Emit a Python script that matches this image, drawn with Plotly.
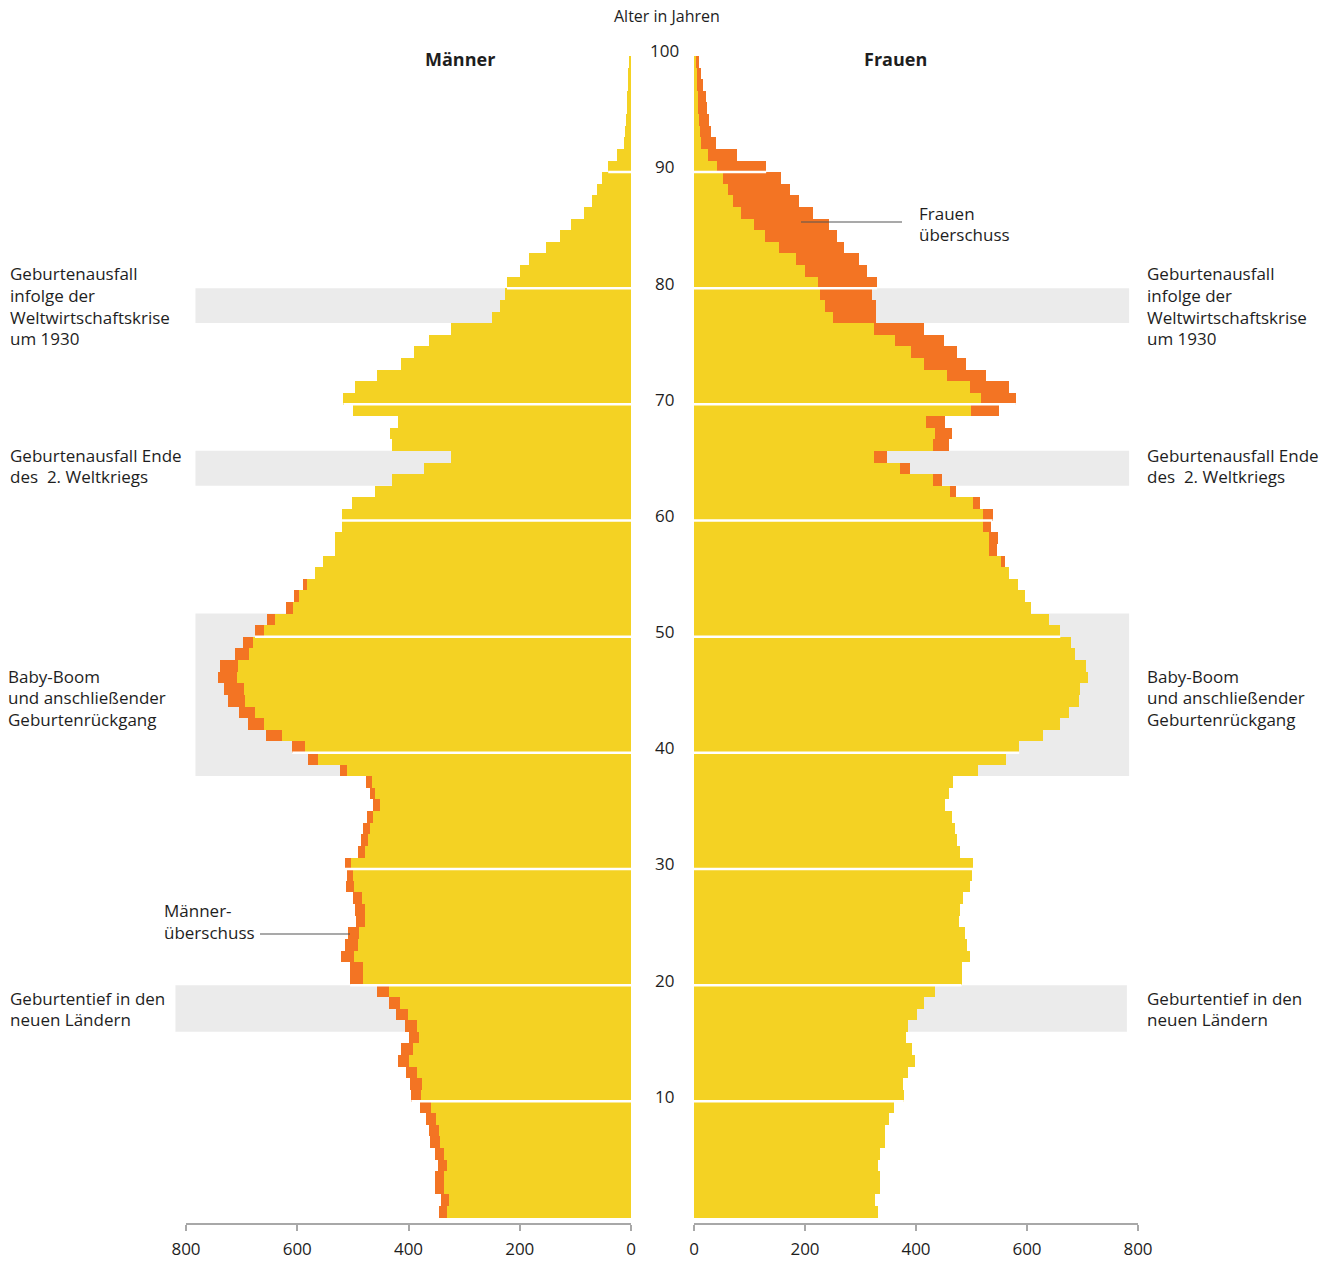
import plotly.graph_objects as go

# ---------------- data (thousands of persons per age year) ----------------
ages = list(range(100))
men = [346, 342, 353, 353, 347, 353, 362, 363, 369, 379,
       395, 398, 405, 419, 413, 400, 407, 423, 435, 456,
       505, 505, 521, 514, 508, 495, 496, 499, 513, 511,
       515, 491, 485, 482, 475, 464, 470, 476, 524, 581,
       609, 657, 688, 705, 725, 732, 742, 738, 712, 697,
       676, 655, 620, 605, 589, 568, 553, 532, 532, 520,
       520, 502, 461, 430, 372, 324, 430, 434, 418, 499,
       517, 497, 456, 414, 391, 363, 324, 250, 236, 227,
       223, 200, 184, 153, 128, 108, 85, 70, 62, 52,
       41, 25, 13, 11, 9, 8, 7, 5, 5, 4]
women = [331, 327, 336, 336, 331, 336, 344, 345, 351, 360,
         378, 376, 385, 399, 392, 382, 385, 401, 415, 435,
         482, 482, 498, 491, 489, 478, 479, 484, 498, 500,
         503, 479, 473, 470, 464, 452, 460, 466, 511, 562,
         586, 628, 659, 676, 694, 696, 709, 707, 687, 679,
         660, 640, 607, 596, 583, 568, 561, 546, 547, 536,
         538, 516, 472, 447, 389, 347, 459, 465, 453, 550,
         580, 568, 527, 490, 474, 451, 414, 328, 328, 321,
         330, 311, 297, 270, 258, 243, 214, 189, 173, 157,
         130, 78, 40, 31, 27, 24, 22, 17, 13, 9]

x_ticks = [0, 200, 400, 600, 800]
age_ticks = [10, 20, 30, 40, 50, 60, 70, 80, 90, 100]

band_low = [77, 63, 38, 16]
band_high = [80, 66, 52, 20]
band_left_extent = [783, 783, 783, 819]
band_right_extent = [784, 784, 784, 780]
band_texts = [
    ["Geburtenausfall", "infolge der", "Weltwirtschaftskrise", "um 1930"],
    ["Geburtenausfall Ende", "des \u00a02. Weltkriegs"],
    ["Baby-Boom", "und anschließender", "Geburtenrückgang"],
    ["Geburtentief in den", "neuen Ländern"],
]

# ---------------- styling ----------------
W, H = 1333, 1261
YEL = "#F4D223"
ORA = "#F37423"
GRAY_BAND = "#EBEBEB"
AXIS_COL = "#A8A8A8"
TXT = "#1e1e1e"
FONT = "Open Sans"

# pixel geometry of the two half-axes
L_ZERO, L_END = 631, 186      # left axis: value 0 .. 800
R_ZERO, R_END = 694, 1138     # right axis: value 0 .. 800
XMAX = 800

def px(x):
    return x / W

def py(y):
    return 1 - y / H

def left_paper(v):
    return px(L_ZERO - v * (L_ZERO - L_END) / XMAX)

def right_paper(v):
    return px(R_ZERO + v * (R_END - R_ZERO) / XMAX)

common = [min(m, w) for m, w in zip(men, women)]
men_extra = [m - c for m, c in zip(men, common)]
women_extra = [w - c for w, c in zip(women, common)]
ypos = [a + 0.5 for a in ages]

fig = go.Figure()
fig.add_trace(go.Bar(y=ypos, x=common, base=0, orientation="h", width=1,
                     marker=dict(color=YEL, line=dict(width=0)),
                     xaxis="x", yaxis="y", hoverinfo="skip"))
fig.add_trace(go.Bar(y=ypos, x=men_extra, base=common, orientation="h", width=1,
                     marker=dict(color=ORA, line=dict(width=0)),
                     xaxis="x", yaxis="y", hoverinfo="skip"))
fig.add_trace(go.Bar(y=ypos, x=common, base=0, orientation="h", width=1,
                     marker=dict(color=YEL, line=dict(width=0)),
                     xaxis="x2", yaxis="y", hoverinfo="skip"))
fig.add_trace(go.Bar(y=ypos, x=women_extra, base=common, orientation="h", width=1,
                     marker=dict(color=ORA, line=dict(width=0)),
                     xaxis="x2", yaxis="y", hoverinfo="skip"))

shapes = []
# grey bands behind bars
for lo, hi, el, er in zip(band_low, band_high, band_left_extent, band_right_extent):
    shapes.append(dict(type="rect", xref="paper", yref="y", x0=left_paper(el), x1=left_paper(0),
                       y0=lo, y1=hi, fillcolor=GRAY_BAND, line=dict(width=0), layer="below"))
    shapes.append(dict(type="rect", xref="paper", yref="y", x0=right_paper(0), x1=right_paper(er),
                       y0=lo, y1=hi, fillcolor=GRAY_BAND, line=dict(width=0), layer="below"))
# white decade separators across the bars
for k in age_ticks[:-1]:
    shapes.append(dict(type="line", xref="x", yref="y", x0=0, x1=men[k], y0=k, y1=k,
                       line=dict(color="white", width=2.5), layer="above"))
    shapes.append(dict(type="line", xref="x2", yref="y", x0=0, x1=women[k], y0=k, y1=k,
                       line=dict(color="white", width=2.5), layer="above"))
# leader lines
shapes.append(dict(type="line", xref="paper", yref="paper", x0=px(260), x1=px(350),
                   y0=py(934), y1=py(934), line=dict(color="#555555", width=1.2)))
shapes.append(dict(type="line", xref="paper", yref="paper", x0=px(801), x1=px(902),
                   y0=py(222), y1=py(222), line=dict(color="#555555", width=1.2)))

ann = []
def text(x, y, s, size=17, anchor="left", bold=False):
    ann.append(dict(xref="paper", yref="paper", x=px(x), y=py(y), text=("<b>%s</b>" % s) if bold else s,
                    showarrow=False, xanchor=anchor, yanchor="middle",
                    font=dict(family=FONT, size=size, color=TXT)))

block_y = [[273.5, 295.2, 317, 338.5], [455, 476.5], [676, 697.5, 719], [998, 1019.5]]
block_xl = [8, 8, 6, 8]
for lines, ys, xl in zip(band_texts, block_y, block_xl):
    for s, yy in zip(lines, ys):
        text(xl, yy, s)
        text(1145, yy, s)

text(162, 910, "Männer-")
text(162, 932, "überschuss")
text(917, 213, "Frauen")
text(917, 234, "überschuss")
text(460, 59, "Männer", size=18, anchor="center", bold=True)
text(895, 59, "Frauen", size=18, anchor="center", bold=True)
text(667, 16, "Alter in Jahren", size=16, anchor="center")

for k in age_ticks:
    ann.append(dict(xref="paper", yref="y", x=px(664), y=k, yshift=5, text=str(k),
                    showarrow=False, xanchor="center", yanchor="middle",
                    font=dict(family=FONT, size=17, color=TXT)))

y_bottom_px = 1217.5 + 0.45 * 11.617
y_top_px = 1217.5 - 100 * 11.617

axis_common = dict(tickvals=x_ticks, ticktext=[str(v) for v in x_ticks], ticks="outside",
                   ticklen=6, tickwidth=2, tickcolor=AXIS_COL, showline=True,
                   linecolor=AXIS_COL, linewidth=2, showgrid=False, zeroline=False,
                   tickfont=dict(family=FONT, size=17, color=TXT), ticklabelstandoff=4,
                   anchor="y", fixedrange=True, automargin=False)

fig.update_layout(
    width=W, height=H, margin=dict(l=0, r=0, t=0, b=0, pad=0, autoexpand=False),
    autosize=False,
    paper_bgcolor="white", plot_bgcolor="white",
    barmode="overlay", bargap=0, showlegend=False,
    xaxis=dict(domain=[px(L_END), px(L_ZERO)], range=[XMAX, 0], **axis_common),
    xaxis2=dict(domain=[px(R_ZERO), px(R_END)], range=[0, XMAX], **axis_common),
    yaxis=dict(domain=[py(y_bottom_px), py(y_top_px)], range=[-0.45, 100], visible=False,
               fixedrange=True, automargin=False),
    shapes=shapes, annotations=ann,
    font=dict(family=FONT, color=TXT),
)

post = ("document.documentElement.style.margin='0';document.body.style.margin='0';"
        "document.body.style.padding='0';document.documentElement.style.overflow='hidden';"
        "document.body.style.overflow='hidden';")

fig.write_html("out.html", config={"responsive": False, "displayModeBar": False}, post_script=post)
